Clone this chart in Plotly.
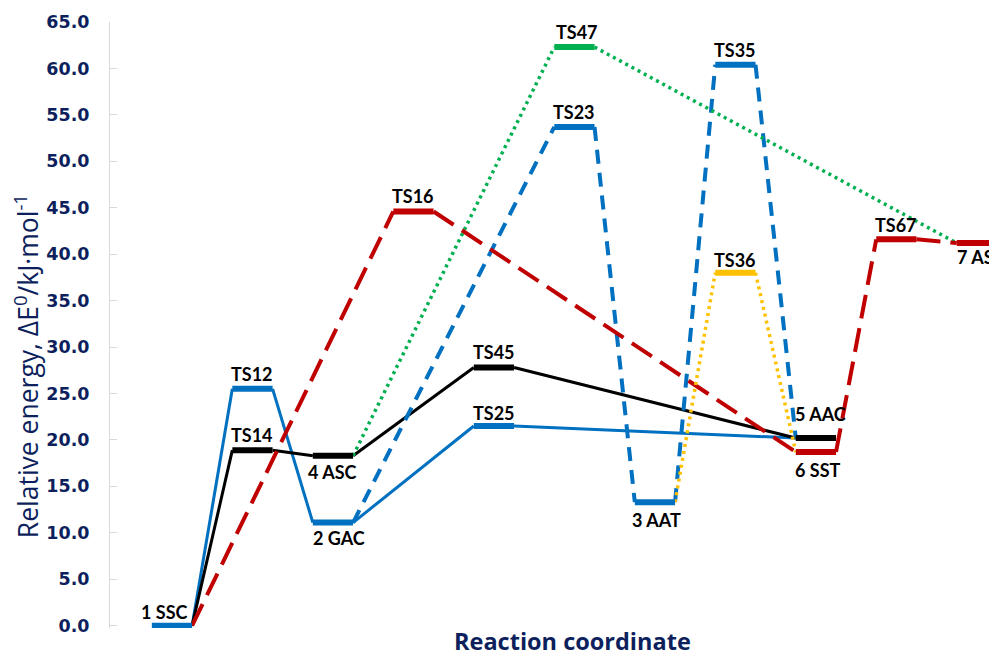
import plotly.graph_objects as go

# ---------------- data ----------------
state_names = ["1 SSC", "TS12", "TS14", "2 GAC", "4 ASC", "TS16", "TS45", "TS25",
               "TS23", "TS47", "3 AAT", "TS36", "TS35", "5 AAC", "6 SST", "TS67", "7 AST"]
state_slots = [0, 1, 1, 2, 2, 3, 4, 4, 5, 5, 6, 7, 7, 8, 8, 9, 10]
state_energies = [0.0, 25.5, 18.9, 11.1, 18.3, 44.6, 27.8, 21.5,
                  53.7, 62.3, 13.3, 38.0, 60.4, 20.2, 18.7, 41.6, 41.2]

path_blue_solid = ["1 SSC", "TS12", "2 GAC", "TS25", "5 AAC"]
path_black = ["1 SSC", "TS14", "4 ASC", "TS45", "5 AAC"]
path_blue_dash = ["2 GAC", "TS23", "3 AAT", "TS35", "5 AAC"]
path_green_dot = ["4 ASC", "TS47", "7 AST"]
path_red_dash = ["1 SSC", "TS16", "6 SST", "TS67", "7 AST"]
path_yellow_dot = ["3 AAT", "TS36", "6 SST"]

y_ticks = [0, 5, 10, 15, 20, 25, 30, 35, 40, 45, 50, 55, 60, 65]

# ---------------- styles ----------------
BLUE, BLACK, RED, GREEN, YELLOW = "#0070C0", "#000000", "#C00000", "#00B050", "#FFC000"
NAVY = "#0D1F5C"

level_color = {"1 SSC": BLUE, "TS12": BLUE, "TS14": BLACK, "2 GAC": BLUE, "4 ASC": BLACK,
               "TS16": RED, "TS45": BLACK, "TS25": BLUE, "TS23": BLUE, "TS47": GREEN,
               "3 AAT": BLUE, "TS36": YELLOW, "TS35": BLUE, "5 AAC": BLACK, "6 SST": RED,
               "TS67": RED, "7 AST": RED}
# label placement: (yshift px, xshift px)
label_pos = {"1 SSC": (14, -7), "TS12": (15, 0), "TS14": (15, 0), "2 GAC": (-15, 6),
             "4 ASC": (-16, 0), "TS16": (15, 0), "TS45": (15, 0), "TS25": (13, 0),
             "TS23": (15, 0), "TS47": (15, 3), "3 AAT": (-18, 2), "TS36": (13, 0),
             "TS35": (15, 0), "5 AAC": (24, 5), "6 SST": (-18, 2), "TS67": (14, 0),
             "7 AST": (-14, 4)}

paths = [
    (path_blue_solid, BLUE, "solid", 3),
    (path_black, BLACK, "solid", 3),
    (path_blue_dash, BLUE, "14px,9px", 4),
    (path_green_dot, GREEN, "3px,4px", 3.5),
    (path_red_dash, RED, "24px,10px", 4),
    (path_yellow_dot, YELLOW, "3px,4px", 3.5),
]

idx = {n: i for i, n in enumerate(state_names)}


def left(n):
    return 2 * state_slots[idx[n]]


def right(n):
    return 2 * state_slots[idx[n]] + 1


fig = go.Figure()

# connectors
for path, col, dash, w in paths:
    xs, ys = [], []
    for a, b in zip(path[:-1], path[1:]):
        xs += [right(a), left(b), None]
        ys += [state_energies[idx[a]], state_energies[idx[b]], None]
    fig.add_trace(go.Scatter(x=xs, y=ys, mode="lines", showlegend=False, hoverinfo="skip",
                             line=dict(color=col, width=w, dash=dash)))

# levels
for n in state_names:
    e = state_energies[idx[n]]
    fig.add_trace(go.Scatter(x=[left(n), right(n)], y=[e, e], mode="lines", showlegend=False,
                             line=dict(color=level_color[n], width=6)))

# labels
for n in state_names:
    ys, xsft = label_pos[n]
    fig.add_annotation(x=left(n) + 0.5, y=state_energies[idx[n]], text=n, showarrow=False,
                       yshift=ys, xshift=xsft, xanchor="center", yanchor="middle",
                       font=dict(family="Lato", size=18, color="#000000", weight="bold"))

fig.add_annotation(xref="paper", yref="paper", x=0.521, y=-0.021, text="Reaction coordinate",
                   xanchor="center", yanchor="middle", showarrow=False, borderpad=0,
                   font=dict(family="Open Sans", size=23.5, color=NAVY, weight="bold"))
fig.add_annotation(xref="paper", yref="paper", x=0, xshift=-84, y=0.432, textangle=-90,
                   xanchor="center", yanchor="middle", borderpad=0,
                   text="Relative energy, ΔE<sup>0</sup>/kJ·mol<sup>-1</sup>", showarrow=False,
                   font=dict(family="Open Sans", size=26.5, color=NAVY))

# the page body adds an 8px offset, so the figure is 8px smaller and margins shifted
fig.update_layout(
    width=989, height=651,
    margin=dict(l=102, r=0, t=14, b=31, autoexpand=False),
    paper_bgcolor="white", plot_bgcolor="white",
    xaxis=dict(range=[-1.04, 21.0], showticklabels=False, showgrid=False, zeroline=False,
               showline=False, ticks="", automargin=False),
    yaxis=dict(range=[-0.25, 65], tickvals=y_ticks, tickformat=".1f", showgrid=False,
               zeroline=False, showline=True, linecolor="#D9D9D9", linewidth=1,
               ticks="inside", ticklen=7, tickcolor="#D9D9D9", ticklabelstandoff=16,
               automargin=False,
               tickfont=dict(family="DejaVu Sans", size=17.5, color=NAVY, weight="bold")),
)

fig.write_html("out.html")
